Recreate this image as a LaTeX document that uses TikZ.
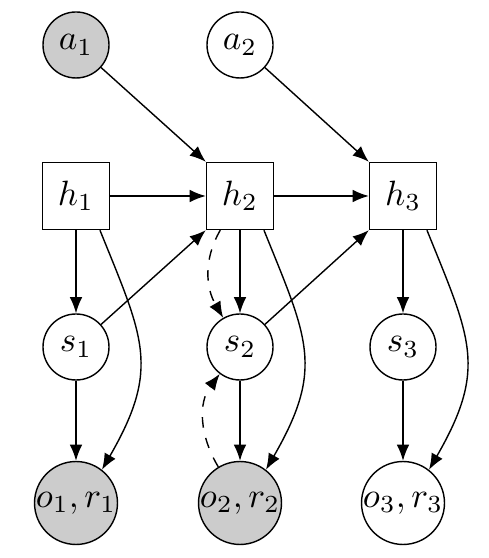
\documentclass[tikz,border=0pt]{standalone}
\usetikzlibrary{arrows.meta}
\begin{document}
\begin{tikzpicture}[>={Latex[length=4.6pt,width=3.6pt]},
  var/.style={draw,circle,minimum size=0.66cm,inner sep=0pt},
  obs/.style={draw,circle,minimum size=0.8cm,inner sep=0pt},
  hid/.style={draw,rectangle,minimum size=0.67cm,inner sep=0pt},
  seen/.style={fill=black!20}]
\useasboundingbox (0,0) rectangle (4.88,5.58);
%%% The nodes of the three time steps
\node[var,seen] (a1) at (0.76,5.13) {$a_1$};
\node[var] (a2) at (2.40,5.13) {$a_2$};
\node[hid] (h1) at (0.76,3.62) {$h_1$};
\node[hid] (h2) at (2.40,3.62) {$h_2$};
\node[hid] (h3) at (4.03,3.62) {$h_3$};
\node[var] (s1) at (0.76,2.11) {$s_1$};
\node[var] (s2) at (2.40,2.11) {$s_2$};
\node[var] (s3) at (4.03,2.11) {$s_3$};
\node[obs,seen] (o1) at (0.76,0.55) {$o_1,r_1$};
\node[obs,seen] (o2) at (2.40,0.55) {$o_2,r_2$};
\node[obs] (o3) at (4.03,0.55) {$o_3,r_3$};
%%% The edges
\draw[->] (a1) -- (h2.north west);
\draw[->] (a2) -- (h3.north west);
\draw[->] (h1) -- (h2);
\draw[->] (h2) -- (h3);
\draw[->] (h1) -- (s1);
\draw[->] (h2) -- (s2);
\draw[->] (h3) -- (s3);
\draw[->] (s1) -- (h2.south west);
\draw[->] (s2) -- (h3.south west);
\draw[->] (s1) -- (o1);
\draw[->] (s2) -- (o2);
\draw[->] (s3) -- (o3);
\draw[->] (h1.-55) to [out=-68,in=60,looseness=1.25] (o1.52);
\draw[->] (h2.-55) to [out=-68,in=60,looseness=1.25] (o2.52);
\draw[->] (h3.-55) to [out=-68,in=60,looseness=1.25] (o3.52);
\draw[dashed,->] (h2) to [out=-120,in=120] (s2);
\draw[dashed,->] (o2) to [out=121,in=-127] (s2);
\end{tikzpicture}
\end{document}
